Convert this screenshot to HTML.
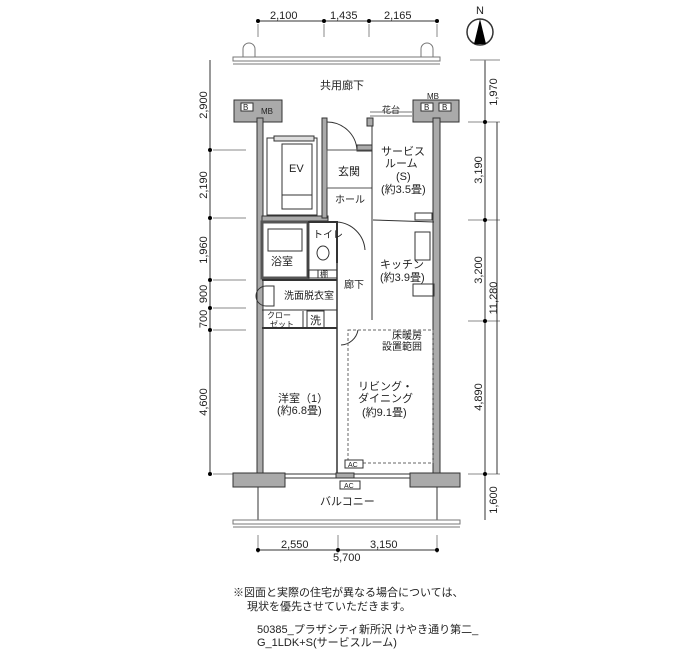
<!DOCTYPE html>
<html><head><meta charset="utf-8"><style>
html,body{margin:0;padding:0;background:#fff}
svg{display:block}
text{font-family:"Liberation Sans","Noto Sans CJK JP",sans-serif;font-size:11px;fill:#222}
</style></head><body>
<svg width="700" height="650" viewBox="0 0 700 650" xmlns="http://www.w3.org/2000/svg">
<g stroke="#333" fill="none" stroke-width="1">
<line x1="258" y1="21" x2="437" y2="21"/>
<line x1="258" y1="24" x2="258" y2="37" stroke="#888"/><line x1="324" y1="24" x2="324" y2="37" stroke="#888"/>
<line x1="369" y1="24" x2="369" y2="37" stroke="#888"/><line x1="437" y1="24" x2="437" y2="37" stroke="#888"/>
<rect x="233" y="57" width="207" height="4" stroke="#777"/>
<line x1="233" y1="64" x2="440" y2="64" stroke="#777"/>
<path d="M243 57 v-8 a6 6 0 0 1 12 0 v8" stroke="#777"/>
<path d="M421 57 v-8 a6 6 0 0 1 12 0 v8" stroke="#777"/>
<line x1="210" y1="60" x2="210" y2="474"/>
<line x1="213" y1="150" x2="246" y2="150" stroke="#888"/><line x1="213" y1="218" x2="246" y2="218" stroke="#888"/>
<line x1="213" y1="280" x2="246" y2="280" stroke="#888"/><line x1="213" y1="308" x2="246" y2="308" stroke="#888"/>
<line x1="213" y1="330" x2="246" y2="330" stroke="#888"/><line x1="213" y1="474" x2="246" y2="474" stroke="#888"/>
<line x1="485" y1="60" x2="485" y2="520"/>
<line x1="470" y1="60" x2="500" y2="60" stroke="#888"/>
<line x1="468" y1="122" x2="500" y2="122" stroke="#888"/><line x1="468" y1="220" x2="500" y2="220" stroke="#888"/>
<line x1="468" y1="321" x2="500" y2="321" stroke="#888"/><line x1="468" y1="474" x2="500" y2="474" stroke="#888"/>
<line x1="497" y1="122" x2="497" y2="474"/>
<line x1="258" y1="550" x2="437" y2="550"/>
<line x1="258" y1="535" x2="258" y2="553" stroke="#888"/><line x1="338" y1="535" x2="338" y2="553" stroke="#888"/><line x1="437" y1="535" x2="437" y2="553" stroke="#888"/>
</g>
<g fill="#000">
<circle cx="258" cy="21" r="2"/><circle cx="324" cy="21" r="2"/><circle cx="369" cy="21" r="2"/><circle cx="437" cy="21" r="2"/>
<circle cx="210" cy="150" r="2"/><circle cx="210" cy="218" r="2"/><circle cx="210" cy="280" r="2"/><circle cx="210" cy="308" r="2"/><circle cx="210" cy="330" r="2"/><circle cx="210" cy="474" r="2"/>
<circle cx="485" cy="122" r="2"/><circle cx="485" cy="220" r="2"/><circle cx="485" cy="321" r="2"/><circle cx="485" cy="474" r="2"/>
<circle cx="258" cy="550" r="2"/><circle cx="338" cy="550" r="2"/><circle cx="437" cy="550" r="2"/>
</g>
<g fill="#aaa" stroke="#333" stroke-width="1">
<rect x="234" y="100" width="48" height="22"/>
<rect x="413" y="100" width="46" height="22"/>
<rect x="257" y="118" width="6" height="356"/>
<rect x="433" y="118" width="7" height="356"/>
<rect x="233" y="473" width="52" height="14"/>
<rect x="410" y="473" width="50" height="14"/>
<rect x="262" y="216" width="66" height="5"/>
<rect x="322" y="118" width="5" height="100"/>
<rect x="367" y="118" width="6" height="8"/>
<rect x="357" y="145" width="15" height="6"/>
</g>
<g fill="#fff" stroke="#333">
<rect x="241" y="103" width="12" height="8"/><rect x="421" y="103" width="12" height="8"/><rect x="439" y="103" width="12" height="8"/>
</g>
<g stroke="#333" fill="none" stroke-width="1">
<rect x="267" y="138" width="50" height="77"/>
<rect x="282" y="144" width="30" height="65"/>
<line x1="282" y1="195" x2="312" y2="195"/>
<rect x="274" y="136" width="40" height="5" fill="#ddd"/>
<path d="M327 122 A30 30 0 0 1 357 150"/>
<line x1="327" y1="150" x2="372" y2="150"/>
<rect x="327" y="150" width="45" height="38" stroke="#555"/>
<line x1="372" y1="126" x2="372" y2="320"/>
<line x1="373" y1="220" x2="434" y2="222"/>
<path d="M370 112 h42 M370 116 h42" stroke="#777"/>
<rect x="262" y="222" width="46" height="56" stroke-width="3" stroke="#555"/>
<rect x="268" y="229" width="34" height="22"/>
<line x1="308" y1="222" x2="308" y2="278"/>
<path d="M308 222 H337 V263" stroke-width="2"/>
<path d="M337 222 A30 30 0 0 1 365 250"/>
<rect x="309" y="270" width="9" height="8"/><rect x="318" y="270" width="19" height="8"/>
<ellipse cx="323" cy="253" rx="6" ry="7"/>
<line x1="262" y1="280" x2="337" y2="280" stroke-width="2"/>
<path d="M266 286 h8 v20 h-8 a3 3 0 0 1 0 -20z"/>
<line x1="262" y1="310" x2="337" y2="310"/>
<rect x="307" y="311" width="17" height="17"/>
<line x1="262" y1="328" x2="337" y2="328" stroke-width="2"/>
<line x1="303" y1="311" x2="303" y2="328"/>
<line x1="337" y1="263" x2="337" y2="473" stroke-width="1.5"/>
<path d="M341 345 A18 18 0 0 0 358 330"/>
<rect x="415" y="232" width="15" height="28"/>
<rect x="413" y="284" width="21" height="12"/>
<rect x="415" y="213" width="17" height="7"/>
<rect x="348" y="330" width="85" height="133" stroke-dasharray="3,2" stroke="#666"/>
<rect x="345" y="460" width="18" height="8" fill="#fff"/>
<line x1="285" y1="474" x2="410" y2="474"/><line x1="285" y1="478" x2="410" y2="478"/>
<rect x="336" y="473" width="18" height="5" fill="#aaa"/>
<rect x="340" y="481" width="20" height="8" fill="#fff"/>
<line x1="258" y1="487" x2="258" y2="520"/><line x1="437" y1="487" x2="437" y2="520"/>
<rect x="233" y="520" width="227" height="4" stroke="#777"/>
<line x1="233" y1="527" x2="460" y2="527" stroke="#777"/>
<circle cx="480" cy="32" r="13" stroke-width="1.5"/>
</g>
<path d="M480 19 L486 44 L474 44 Z" fill="#000"/>
<text x="270" y="19">2,100</text><text x="330" y="19">1,435</text><text x="384" y="19">2,165</text>
<text x="476" y="14">N</text>
<text x="320" y="89">共用廊下</text>
<text x="243" y="110" style="font-size:8px">B</text><text x="261" y="114" style="font-size:8px">MB</text>
<text x="424" y="110" style="font-size:8px">B</text><text x="442" y="110" style="font-size:8px">B</text><text x="427" y="99" style="font-size:8px">MB</text>
<text x="382" y="113" style="font-size:9px">花台</text>
<text x="289" y="172">EV</text>
<text x="338" y="175">玄関</text>
<text x="335" y="203" style="font-size:10px">ホール</text>
<text x="381" y="155">サービス</text><text x="385" y="167">ルーム</text><text x="396" y="180">(S)</text><text x="381" y="193">(約3.5畳)</text>
<text x="313" y="238" style="font-size:10px">トイレ</text>
<text x="271" y="265">浴室</text>
<text x="320" y="277" style="font-size:8px">棚</text>
<text x="380" y="268">キッチン</text><text x="380" y="281">(約3.9畳)</text>
<text x="344" y="288" style="font-size:10px">廊下</text>
<text x="284" y="299" style="font-size:10px">洗面脱衣室</text>
<text x="267" y="318" style="font-size:8px">クロー</text><text x="270" y="327" style="font-size:8px">ゼット</text>
<text x="310" y="324">洗</text>
<text x="392" y="339" style="font-size:10px">床暖房</text><text x="382" y="350" style="font-size:10px">設置範囲</text>
<text x="278" y="402">洋室（1）</text><text x="277" y="414">(約6.8畳)</text>
<text x="358" y="390">リビング・</text><text x="358" y="402">ダイニング</text><text x="362" y="416">(約9.1畳)</text>
<text x="348" y="467" style="font-size:7px">AC</text><text x="344" y="488" style="font-size:7px">AC</text>
<text x="320" y="505">バルコニー</text>
<text x="281" y="548">2,550</text><text x="370" y="548">3,150</text><text x="333" y="561">5,700</text>
<g>
<text transform="translate(207,105) rotate(-90)" text-anchor="middle">2,900</text>
<text transform="translate(207,185) rotate(-90)" text-anchor="middle">2,190</text>
<text transform="translate(207,250) rotate(-90)" text-anchor="middle">1,960</text>
<text transform="translate(207,294) rotate(-90)" text-anchor="middle">900</text>
<text transform="translate(207,319) rotate(-90)" text-anchor="middle">700</text>
<text transform="translate(207,402) rotate(-90)" text-anchor="middle">4,600</text>
<text transform="translate(497,92) rotate(-90)" text-anchor="middle">1,970</text>
<text transform="translate(482,170) rotate(-90)" text-anchor="middle">3,190</text>
<text transform="translate(482,270) rotate(-90)" text-anchor="middle">3,200</text>
<text transform="translate(497,298) rotate(-90)" text-anchor="middle">11,280</text>
<text transform="translate(482,397) rotate(-90)" text-anchor="middle">4,890</text>
<text transform="translate(497,500) rotate(-90)" text-anchor="middle">1,600</text>
</g>
<text x="233" y="596">※図面と実際の住宅が異なる場合については、</text>
<text x="247" y="610">現状を優先させていただきます。</text>
<text x="257" y="633">50385_プラザシティ新所沢 けやき通り第二_</text>
<text x="257" y="646">G_1LDK+S(サービスルーム)</text>
</svg>
</body></html>
